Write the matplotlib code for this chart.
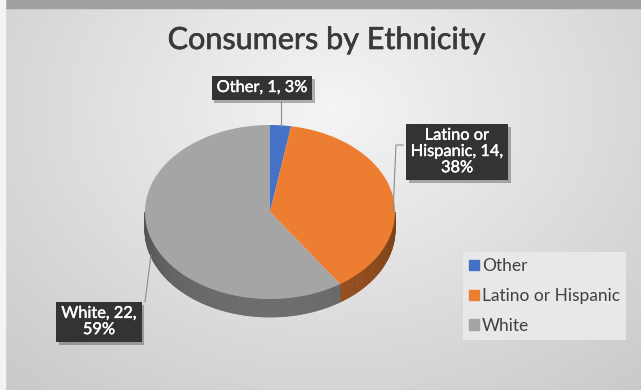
import numpy as np
import matplotlib

matplotlib.use("Agg")
import matplotlib.pyplot as plt
import matplotlib.patheffects as pe
from matplotlib.patches import Patch, Rectangle
from matplotlib.colors import to_rgb

# data
categories = ["Other", "Latino or Hispanic", "White"]
counts = [1, 14, 22]
colors = ["#4472c4", "#ed7d31", "#a5a5a5"]
title = "Consumers by Ethnicity"

# pie geometry in pixel coordinates (y grows downward)
CX, CY, RX, RY, DEPTH = 270, 212, 125, 87, 18

# label box centres and leader lines (pixels)
label_pos = [(262, 88), (457, 152), (99, 322)]
leaders = [[(281, 102), (281, 126)],
           [(403, 145), (396, 145), (393, 212)],
           [(151, 255), (145, 302)]]
label_text = ["Other, 1, 3%", "Latino or\nHispanic, 14,\n38%", "White, 22,\n59%"]

FONT = ["Lato", "DejaVu Sans"]


def ellipse(t, dy=0.0):
    t = np.radians(t)
    return CX + RX * np.sin(t), CY - RY * np.cos(t) + dy


def shade(color, f):
    return tuple(np.clip(np.array(to_rgb(color)) * f, 0, 1))


fig = plt.figure(figsize=(6.41, 3.90), dpi=100)
ax = fig.add_axes([0, 0, 1, 1])
ax.set_xlim(0, 641)
ax.set_ylim(390, 0)
ax.axis("off")

# background: soft radial gradient
yy, xx = np.mgrid[0:390, 0:641]
r = np.sqrt(((xx - 330) / 420.0) ** 2 + ((yy - 110) / 330.0) ** 2)
bg = np.clip(0.96 - 0.15 * r, 0.78, 0.96)
ax.imshow(np.dstack([bg, bg, bg]), extent=(0, 641, 390, 0), zorder=0,
          aspect="auto")
ax.add_patch(Rectangle((0, 0), 641, 8, color="#a0a0a0", zorder=1))
ax.add_patch(Rectangle((0, 0), 5, 390, color="#f4f4f4", zorder=1))

fracs = np.array(counts) / sum(counts)
edges = np.concatenate([[0], np.cumsum(fracs) * 360])

# side walls (front half of the ellipse only)
for i, c in enumerate(colors):
    t1, t2 = max(edges[i], 90), min(edges[i + 1], 270)
    if t2 <= t1:
        continue
    steps = np.linspace(t1, t2, max(int(t2 - t1), 2) + 1)
    for a, b in zip(steps[:-1], steps[1:]):
        f = 0.50 + 0.16 * np.sin(np.radians((a + b) / 2 - 90))
        tt = np.array([a, b])
        x1, y1 = ellipse(tt)
        x2, y2 = ellipse(tt[::-1], DEPTH)
        ax.fill(np.r_[x1, x2], np.r_[y1, y2], color=shade(c, f), lw=0.6,
                ec=shade(c, f), zorder=2)

# top faces
for i, c in enumerate(colors):
    tt = np.linspace(edges[i], edges[i + 1], 200)
    x, y = ellipse(tt)
    ax.fill(np.r_[CX, x], np.r_[CY, y], color=c, lw=0, zorder=3)

# leader lines
for pts in leaders:
    px, py = zip(*pts)
    ax.plot(px, py, color="#8c8c8c", lw=0.8, zorder=4)

# data labels in dark boxes with a slight shadow
for (lx, ly), txt in zip(label_pos, label_text):
    t = ax.text(lx, ly, txt, ha="center", va="center", fontsize=11.8,
                family=FONT, color="white", linespacing=1.2, zorder=5,
                bbox=dict(boxstyle="square,pad=0.3", fc="#333333",
                          ec="none"),
                path_effects=[pe.withStroke(linewidth=0.3,
                                            foreground="white")])
    t.get_bbox_patch().set_path_effects(
        [pe.SimplePatchShadow(offset=(2, -2), alpha=0.3), pe.Normal()])

ax.text(326, 40, title, ha="center", va="center", fontsize=22,
        family=FONT, color="#3a3a3a", zorder=5,
        path_effects=[pe.withStroke(linewidth=0.45, foreground="#3a3a3a")])

handles = [Patch(color=c, label=n) for c, n in zip(colors, categories)]
leg = ax.legend(handles=handles, loc="upper left",
                bbox_to_anchor=(463 / 641, 1 - 252 / 390), frameon=True,
                fancybox=False, handlelength=0.55, handleheight=0.55,
                handletextpad=0.2, labelspacing=0.8, borderpad=0.35,
                borderaxespad=0, prop={"family": FONT, "size": 12.5},
                labelcolor="#404040")
leg.get_frame().set_facecolor("#e8e8e8")
leg.get_frame().set_edgecolor("none")
leg.get_frame().set_alpha(1)

fig.savefig("out.png", dpi=100)
